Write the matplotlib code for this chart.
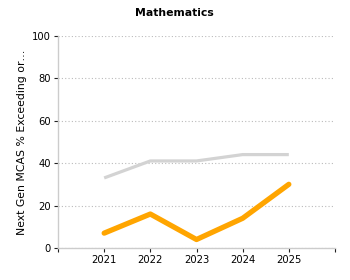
import matplotlib
matplotlib.use("Agg")
import matplotlib.pyplot as plt

years = [2021, 2022, 2023, 2024, 2025]
state = [33, 41, 41, 44, 44]
school = [7, 16, 4, 14, 30]
title = "Mathematics"
ylabel = "Next Gen MCAS % Exceeding or\u2026"

plt.rcParams['font.family'] = ['DejaVu Sans']
fig = plt.figure(figsize=(3.5, 2.8), dpi=100)
ax = fig.add_axes([58/350, 1 - 248/280, (335-58)/350, (248-35.7)/280])

ax.plot(years, state, color="#d3d3d3", lw=2.3, solid_capstyle="butt", zorder=3)
ax.plot(years, school, color="#ffa500", lw=3.8, solid_capstyle="round", zorder=4)

ax.set_xlim(2020, 2026)
ax.set_ylim(0, 100)
ax.set_xticks([2020, 2021, 2022, 2023, 2024, 2025, 2026])
ax.set_xticklabels(["", "2021", "2022", "2023", "2024", "2025", ""], fontsize=7.2)
ax.set_yticks([0, 20, 40, 60, 80, 100])
ax.set_yticklabels(["0", "20", "40", "60", "80", "100"], fontsize=7.2)
ax.tick_params(axis="both", length=3, width=0.8, color="#222222", pad=2)
ax.grid(axis="y", linestyle=(0, (1, 2)), color="#bbbbbb", lw=0.8)
ax.set_axisbelow(True)
for s in ["top", "right"]:
    ax.spines[s].set_visible(False)
for s in ["left", "bottom"]:
    ax.spines[s].set_color("#cccccc")
    ax.spines[s].set_linewidth(1)
ax.set_ylabel(ylabel, fontsize=7.8, labelpad=4)
fig.text(174/350, 1 - 13/280, title, ha="center", va="center", fontsize=7.8, fontweight="bold")
fig.savefig("out.png", dpi=100)
